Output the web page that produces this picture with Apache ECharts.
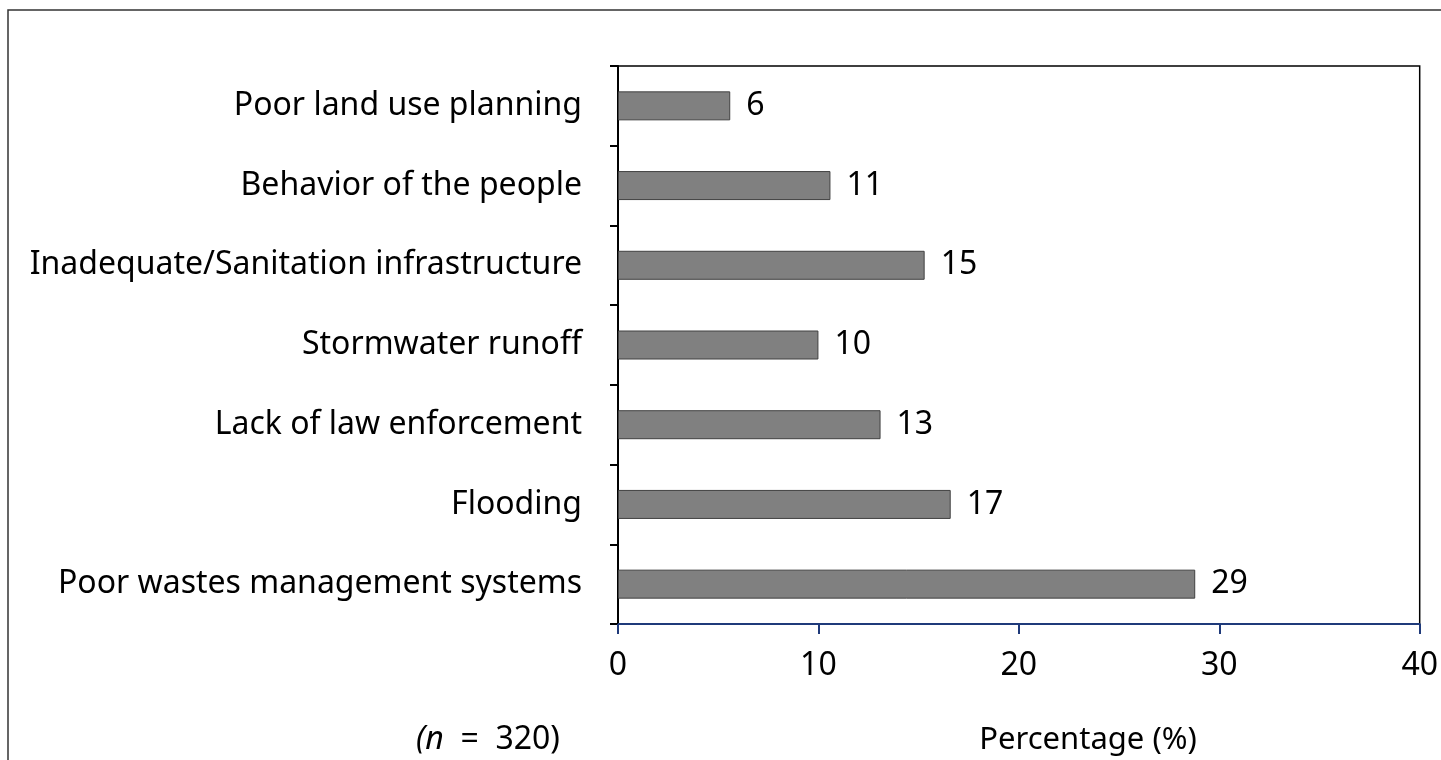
<!DOCTYPE html>
<html><head><meta charset="utf-8">
<script src="https://cdn.jsdelivr.net/npm/echarts@6/dist/echarts.min.js"></script>
<style>html,body{margin:0;padding:0;background:#fff}#c{width:1441px;height:760px}</style>
</head><body><div id="c"></div>
<script>
const categories = ['Poor wastes management systems','Flooding','Lack of law enforcement','Stormwater runoff','Inadequate/Sanitation infrastructure','Behavior of the people','Poor land use planning'];
const values = [28.8, 16.6, 13.1, 10.0, 15.3, 10.6, 5.6];
const valueLabels = [29, 17, 13, 10, 15, 11, 6];
const xTicks = [0, 10, 20, 30, 40];
const font = 'Noto Sans';
const chart = echarts.init(document.getElementById('c'));
chart.setOption({
  animation: false,
  grid: {left: 618, right: 19, top: 66, bottom: 136, show: true, borderColor: '#000', borderWidth: 1.5},
  xAxis: {
    type: 'value', min: xTicks[0], max: xTicks[xTicks.length-1], interval: 10,
    splitLine: {show: false},
    axisLine: {show: true, lineStyle: {color: '#1f3a7a', width: 2}},
    axisTick: {show: true, length: 10, lineStyle: {color: '#1f3a7a', width: 2}},
    axisLabel: {color: '#000', fontFamily: font, fontSize: 32, margin: 26}
  },
  yAxis: {
    type: 'category', data: categories,
    axisLine: {show: true, lineStyle: {color: '#000', width: 2}},
    axisTick: {show: true, length: 8, lineStyle: {color: '#000', width: 2}},
    axisLabel: {color: '#000', fontFamily: font, fontSize: 32, margin: 36}
  },
  series: [{
    type: 'bar', data: values, barWidth: 29,
    itemStyle: {color: '#808080', borderColor: '#404040', borderWidth: 1},
    label: {show: true, position: 'right', distance: 16, color: '#000', fontFamily: font, fontSize: 32,
      formatter: p => valueLabels[p.dataIndex]}
  }],
  graphic: [
    {type: 'rect', shape: {x: 8, y: 10, width: 1500, height: 800}, style: {fill: 'none', stroke: '#333', lineWidth: 1.5}, silent: true},
    {type: 'text', x: 1088, y: 740, style: {
      text: 'Percentage (%)', align: 'center', verticalAlign: 'middle',
      font: '31px "Noto Sans"', fill: '#000'
    }, silent: true},
    {type: 'text', x: 488, y: 740, style: {
      text: '{i|(n}{r|  =  320)}', align: 'center', verticalAlign: 'middle',
      fill: '#000',
      rich: {
        i: {fontFamily: font, fontSize: 32, fontStyle: 'italic', fill: '#000'},
        r: {fontFamily: font, fontSize: 32, fill: '#000'}
      }
    }, silent: true}
  ]
});
</script></body></html>
